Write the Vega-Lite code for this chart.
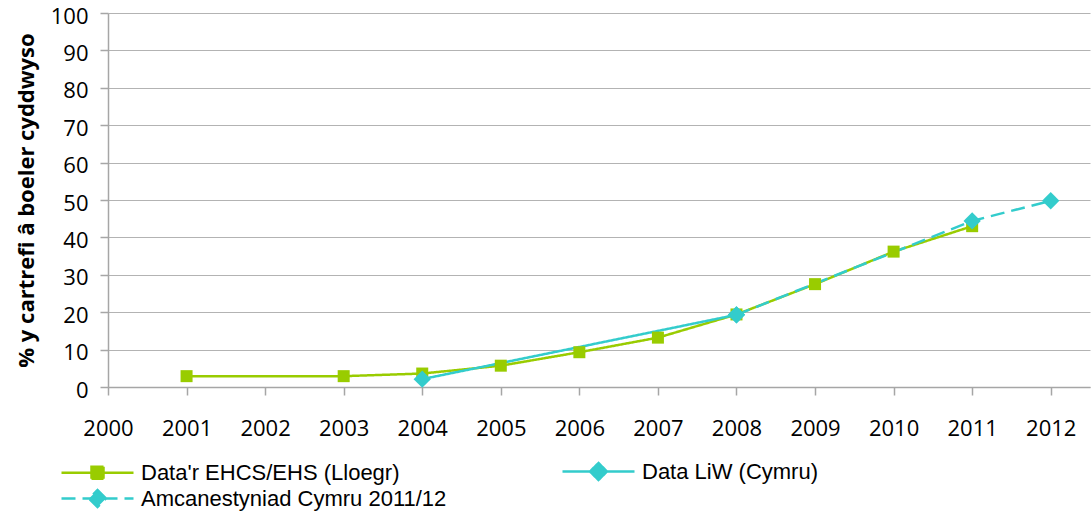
{
  "$schema": "https://vega.github.io/schema/vega-lite/v6.json",
  "autosize": "none",
  "width": 982,
  "height": 374,
  "padding": {"left": 108, "top": 13, "right": 2, "bottom": 126},
  "background": "white",
  "config": {
    "view": {"stroke": null},
    "axis": {"labelFont": "Open Sans", "labelFontSize": 22, "labelColor": "#000000", "titleColor": "#000000", "domainColor": "#a6a6a6", "tickColor": "#a6a6a6", "gridColor": "#b3b3b3", "tickSize": 8, "domainWidth": 1.5, "tickWidth": 1.5}
  },
  "data": {
    "values": [
      {"year": 2001, "v": 2.9, "s": "Data'r EHCS/EHS (Lloegr)"},
      {"year": 2003, "v": 2.9, "s": "Data'r EHCS/EHS (Lloegr)"},
      {"year": 2004, "v": 3.6, "s": "Data'r EHCS/EHS (Lloegr)"},
      {"year": 2005, "v": 5.7, "s": "Data'r EHCS/EHS (Lloegr)"},
      {"year": 2006, "v": 9.3, "s": "Data'r EHCS/EHS (Lloegr)"},
      {"year": 2007, "v": 13.2, "s": "Data'r EHCS/EHS (Lloegr)"},
      {"year": 2008, "v": 19.4, "s": "Data'r EHCS/EHS (Lloegr)"},
      {"year": 2009, "v": 27.5, "s": "Data'r EHCS/EHS (Lloegr)"},
      {"year": 2010, "v": 36.2, "s": "Data'r EHCS/EHS (Lloegr)"},
      {"year": 2011, "v": 43.0, "s": "Data'r EHCS/EHS (Lloegr)"},
      {"year": 2004, "v": 2.1, "s": "Data LiW (Cymru)"},
      {"year": 2008, "v": 19.3, "s": "Data LiW (Cymru)"},
      {"year": 2008, "v": 19.3, "s": "Amcanestyniad Cymru 2011/12"},
      {"year": 2011, "v": 44.4, "s": "Amcanestyniad Cymru 2011/12"},
      {"year": 2012, "v": 49.8, "s": "Amcanestyniad Cymru 2011/12"}
    ]
  },
  "encoding": {
    "x": {
      "field": "year", "type": "quantitative",
      "scale": {"domain": [2000, 2012.5], "nice": false, "zero": false},
      "axis": {"values": [2000, 2001, 2002, 2003, 2004, 2005, 2006, 2007, 2008, 2009, 2010, 2011, 2012], "format": "d", "title": null, "grid": false, "labelPadding": 23, "labelFlush": false}
    },
    "y": {
      "field": "v", "type": "quantitative",
      "scale": {"domain": [0, 100], "nice": false},
      "axis": {"values": [0, 10, 20, 30, 40, 50, 60, 70, 80, 90, 100], "grid": true, "labelPadding": 12, "labelOffset": 3, "title": "% y cartrefi â boeler cyddwyso", "titleFont": "Open Sans", "titleFontSize": 22, "titleFontWeight": "bold", "titlePadding": 12}
    },
    "color": {
      "field": "s", "type": "nominal",
      "scale": {"domain": ["Data'r EHCS/EHS (Lloegr)", "Data LiW (Cymru)", "Amcanestyniad Cymru 2011/12"], "range": ["#99cc00", "#33cccc", "#33cccc"]},
      "legend": {
        "title": null, "orient": "none", "legendX": -48, "legendY": 447, "direction": "horizontal", "columns": 2, "columnPadding": 110, "rowPadding": 0, "padding": 0,
        "labelFont": "Liberation Sans", "labelFontSize": 22, "labelColor": "#000000", "labelOffset": 58, "labelLimit": 500, "symbolSize": 400,
        "encode": {
          "symbols": {
            "update": {
              "shape": {"signal": "indexof(datum.value, 'EHCS') >= 0 ? 'M-1,0H6.2M2,-0.6H3.2V0.6H2Z' : 'M-1,0H6.2M2.6,-0.85L3.45,0L2.6,0.85L1.75,0Z'"},
              "fill": {"signal": "indexof(datum.value, 'EHCS') >= 0 ? '#99cc00' : '#33cccc'"},
              "stroke": {"signal": "indexof(datum.value, 'EHCS') >= 0 ? '#99cc00' : '#33cccc'"},
              "strokeWidth": {"value": 2.5},
              "strokeDash": {"signal": "indexof(datum.value, 'Amcan') >= 0 ? [11, 7] : [1, 0]"},
              "size": {"value": 400},
              "opacity": {"value": 1},
              "fillOpacity": {"value": 1}
            }
          }
        }
      }
    }
  },
  "layer": [
    {
      "mark": {"type": "line", "strokeWidth": 2.5},
      "encoding": {
        "strokeDash": {
          "field": "s", "type": "nominal",
          "scale": {"domain": ["Data'r EHCS/EHS (Lloegr)", "Data LiW (Cymru)", "Amcanestyniad Cymru 2011/12"], "range": [[1, 0], [1, 0], [14, 7]]},
          "legend": null
        }
      }
    },
    {
      "transform": [{"filter": "indexof(datum.s, 'EHCS') >= 0"}],
      "mark": {"type": "point", "shape": "square", "filled": true, "opacity": 1, "size": 144}
    },
    {
      "transform": [{"filter": "indexof(datum.s, 'EHCS') < 0"}],
      "mark": {"type": "point", "shape": "diamond", "filled": true, "opacity": 1, "size": 300}
    }
  ]
}
